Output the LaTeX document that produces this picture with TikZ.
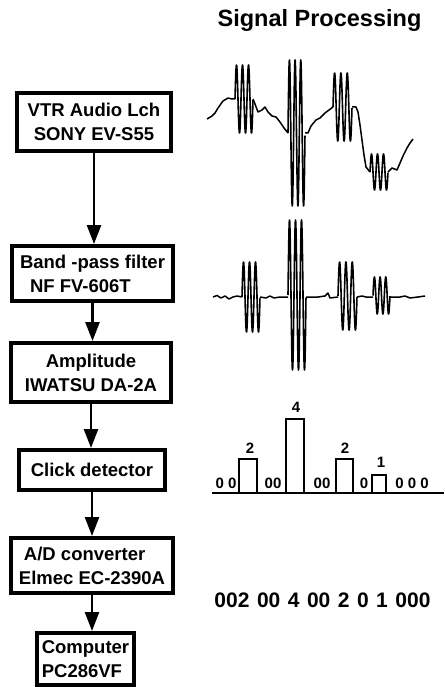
\documentclass[tikz,border=0pt]{standalone}
\usepackage{fontspec}
\setmainfont{Liberation Sans}
\usepackage{tikz}
\usetikzlibrary{arrows.meta,positioning}

\newcommand\burst[4]{%
  \draw[wave, line width=1.6pt] plot[domain=0:1, samples=150]
    ({#1+(#2-#1)*\x}, {#3-#4*sin(1080*\x)});
}
\newcommand\gsep{\hspace{7.5pt}}

\begin{document}
\begin{tikzpicture}[
  x=1pt, y=-1pt,
  box/.style={draw=black, line width=3.6pt, align=center, inner sep=2pt,
              font=\bfseries\fontsize{18.5}{24}\selectfont},
  arrow/.style={-{Triangle[length=19pt,width=14pt]}, line width=2.6pt},
  wave/.style={line width=1.5pt, line join=round},
  num/.style={font=\bfseries\fontsize{15}{17}\selectfont, inner sep=0pt},
  bar/.style={draw, line width=1.8pt},
]
\useasboundingbox (0,0) rectangle (444,687);

\node[box, minimum width=154.4pt, minimum height=58.4pt] (vtr) at (94,122)
  {VTR Audio Lch\\SONY EV-S55};
\node[box, minimum width=161.4pt, minimum height=55.4pt, align=left,
      below=91pt of vtr, xshift=-1.5pt] (bpf)
  {Band -pass filter\\\hspace*{10pt}NF FV-606T};
\node[box, minimum width=160.4pt, minimum height=59.4pt,
      below=38pt of bpf, xshift=-1.5pt] (amp)
  {Amplitude\\IWATSU DA-2A};
\node[box, minimum width=146.4pt, minimum height=40.4pt,
      below=44pt of amp, xshift=1pt] (click)
  {Click detector};
\node[box, minimum width=162.4pt, minimum height=55.4pt, align=left,
      below=44pt of click] (adc)
  {\hspace*{5pt}A/D converter\\Elmec EC-2390A};
\node[box, minimum width=97.4pt, minimum height=52.4pt, align=left,
      below=36pt of adc, xshift=-6.5pt] (pc)
  {Computer\\PC286VF};

\draw[arrow] (vtr.south) -- (vtr.south |- bpf.north);
\draw[arrow] (bpf.south) -- (bpf.south |- amp.north);
\draw[arrow] (amp.south) -- (amp.south |- click.north);
\draw[arrow] (click.south) -- (click.south |- adc.north);
\draw[arrow] (adc.south) -- (adc.south |- pc.north);

\node[font=\bfseries\fontsize{23.5}{28}\selectfont, anchor=base] (title)
  at (319.5,27) {Signal Processing};

% raw audio
\draw[wave] plot coordinates {(207,119) (212,116) (215,113) (218,108) (223,101)
  (228,98) (232,99) (235,99)};
\draw[wave] plot coordinates {(253,99) (255,104) (258,112) (262,110) (265,107)
  (268,112) (272,116) (276,117) (280,122) (284,128) (288,133)};
\draw[wave] plot coordinates {(305,133) (308,133) (311,126) (316,120) (320,118)
  (325,113) (329,110) (333,107)};
\draw[wave] plot coordinates {(352,107) (356,107) (358,112) (360,125) (362,140)
  (364,155) (366,167) (370,172)};
\draw[wave] plot coordinates {(388,172) (392,168) (397,170) (400,163) (403,156)
  (407,148) (410,143) (413,139)};
\burst{235}{253}{99}{34}
\burst{288}{305}{133}{73}
\burst{333}{352}{107}{34}
\burst{370}{388}{172}{18}

% filtered
\draw[wave] plot coordinates {(213,297) (217,295.5) (221,298) (225,296) (229,299)
  (233,297) (237,296) (242,297)};
\draw[wave] plot coordinates {(260,297) (266,298) (270,296) (274,298) (280,297) (288,297)};
\draw[wave] plot coordinates {(306,297) (318,297) (325,296) (328,293) (330,298) (338,297)};
\draw[wave] plot coordinates {(357,297) (362,296) (366,297) (373,297)};
\draw[wave] plot coordinates {(390,297) (400,297) (405,296) (410,298) (418,297) (425,296)};
\burst{242}{260}{297}{35}
\burst{288}{306}{295}{75}
\burst{338}{357}{296}{34}
\burst{373}{390}{295.5}{18.5}

% clicks
\draw[bar] (212,493) -- (444,493);
\draw[bar] (239,493) rectangle (257,459);
\draw[bar] (286,493) rectangle (304,419);
\draw[bar] (336,493) rectangle (353,459);
\draw[bar] (372,493) rectangle (386,475);
\node[num] (c1) at (250,448) {2};
\node[num] (c2) at (296,407) {4};
\node[num] (c3) at (345,448) {2};
\node[num] (c4) at (381,462) {1};
\node[num] (z1) at (226,483) {0 0};
\node[num] (z2) at (273,483) {00};
\node[num] (z3) at (322,483) {00};
\node[num] (z4) at (364,483) {0};
\node[num] (z5) at (412,483) {0 0 0};

\node[font=\bfseries\fontsize{21}{24}\selectfont, anchor=base] (code) at (322.5,607)
  {002\gsep 00\gsep 4\gsep 00\gsep 2\gsep 0\gsep 1\gsep 000};
\end{tikzpicture}
\end{document}
